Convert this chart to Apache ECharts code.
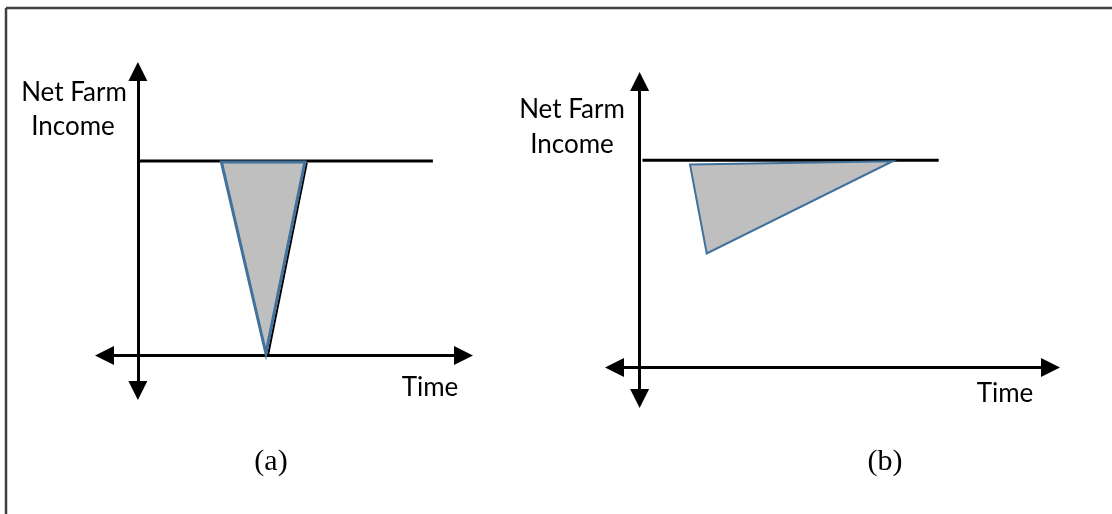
<!DOCTYPE html>
<html>
<head>
<meta charset="utf-8">
<script src="https://cdn.jsdelivr.net/npm/echarts@6/dist/echarts.min.js"></script>
<style>
  html, body { margin: 0; padding: 0; background: #fff; }
  #chart { width: 1112px; height: 514px; }
</style>
</head>
<body>
<div id="chart"></div>
<script>
// panel (a): sharp drop to zero then quick recovery
const baselineA = [[0, 10], [10.6, 10]];
const lossA = [[3.0, 9.95], [6.0, 9.95], [4.6, 0.1]];
const edgeA = [[6.07, 9.9], [4.68, 0.05]];

// panel (b): small drop, slow recovery
const baselineB = [[0.1, 10], [10.7, 10]];
const lossB = [[1.8, 9.8], [9.05, 9.95], [2.4, 5.5]];

const axisLabels = ['Net Farm', 'Income', 'Time'];
const panelLabels = ['(a)', '(b)'];

const chart = echarts.init(document.getElementById('chart'));

const arrowAxis = (min, max, gridIndex) => ({
  type: 'value',
  gridIndex,
  min,
  max,
  axisLine: {
    show: true,
    onZero: true,
    symbol: ['triangle', 'triangle'],
    symbolSize: [19, 19],
    lineStyle: { color: '#000', width: 3 }
  },
  axisTick: { show: false },
  axisLabel: { show: false },
  splitLine: { show: false }
});

const triangle = (pts, xi, lw) => ({
  type: 'custom',
  xAxisIndex: xi,
  yAxisIndex: xi,
  data: pts,
  z: 3,
  renderItem: (params, api) => {
    if (params.dataIndex !== 0) return;
    return {
      type: 'polygon',
      shape: { points: pts.map(p => api.coord(p)) },
      style: { fill: '#bfbfbf', stroke: '#41719c', lineWidth: lw }
    };
  }
});

const flatLine = (data, xi, w) => ({
  type: 'line',
  xAxisIndex: xi,
  yAxisIndex: xi,
  data,
  showSymbol: false,
  silent: true,
  z: 2,
  lineStyle: { color: '#000', width: w }
});

const label = (text, x, y, font) => ({
  type: 'text',
  x, y,
  style: { text, font, fill: '#000', align: 'center', verticalAlign: 'middle' }
});

const sans = '26px Lato';
const serif = '30px "Liberation Serif"';

chart.setOption({
  backgroundColor: '#fff',
  animation: false,
  grid: [
    { left: 104.5, right: 648.5, top: 71.5, bottom: 123.5 },
    { left: 614.5, right: 61.5, top: 81.5, bottom: 115.5 }
  ],
  xAxis: [arrowAxis(-1.2, 11.7, 0), arrowAxis(-0.9, 14.7, 1)],
  yAxis: [arrowAxis(-1.8, 14.6, 0), arrowAxis(-1.5, 13.8, 1)],
  series: [
    flatLine(baselineA, 0, 3),
    flatLine(edgeA, 0, 2),
    triangle(lossA, 0, 3),
    flatLine(baselineB, 1, 3),
    triangle(lossB, 1, 2)
  ],
  graphic: [
    { type: 'line', shape: { x1: 6, y1: 8, x2: 1112, y2: 8 }, style: { stroke: '#404040', lineWidth: 2.5 } },
    { type: 'line', shape: { x1: 6, y1: 8, x2: 6, y2: 514 }, style: { stroke: '#404040', lineWidth: 2.5 } },
    label(axisLabels[0], 74, 93, sans),
    label(axisLabels[1], 73, 127, sans),
    label(axisLabels[2], 430, 388, sans),
    label(axisLabels[0], 572, 110, sans),
    label(axisLabels[1], 572, 145, sans),
    label(axisLabels[2], 1005, 394, sans),
    label(panelLabels[0], 271, 462, serif),
    label(panelLabels[1], 885, 462, serif)
  ]
});

window.addEventListener('resize', () => chart.resize());
</script>
</body>
</html>
